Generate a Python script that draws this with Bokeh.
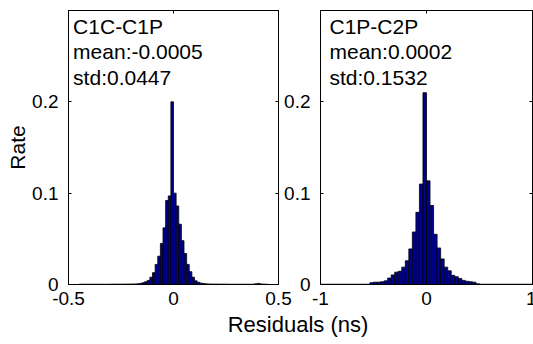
import numpy as np
from bokeh.plotting import figure
from bokeh.models import Range1d, LinearAxis, FixedTicker, Label, CustomLabelingPolicy
from bokeh.layouts import row, column
from bokeh.embed import file_html
from bokeh.resources import INLINE

FONT = "Liberation Sans"

# ---------------- data ----------------
y_label = "Rate"
x_label = "Residuals (ns)"
y_ticks = [0, 0.1, 0.2]
y_tick_labels = ["0", "0.1", "0.2"]

left_texts = ["C1C-C1P", "mean:-0.0005", "std:0.0447"]
left_x_ticks = [-0.5, 0, 0.5]
left_x_tick_labels = ["-0.5", "0", "0.5"]
left_bin_start = -0.45
left_bin_width = 0.0125
left_rates = [
    0.0003, 0.0003, 0.0003, 0.0003, 0.0003, 0.0003, 0.0003, 0.0003, 0.0003, 0.0003, 0.0003,
    0.0003, 0.0004, 0.0004, 0.0004, 0.0004, 0.0004, 0.0005, 0.0005, 0.0005, 0.0006, 0.0006,
    0.0008, 0.0012, 0.002, 0.003, 0.0045, 0.008, 0.013, 0.022, 0.031, 0.045, 0.062, 0.092,
    0.097, 0.2, 0.1, 0.086, 0.066, 0.048, 0.034, 0.022, 0.014, 0.008, 0.004, 0.0025, 0.0015,
    0.001, 0.0007,
    0.0006, 0.0005, 0.0005, 0.0005, 0.0004, 0.0004, 0.0004, 0.0004, 0.0003, 0.0003, 0.0003,
    0.0003, 0.0003, 0.0003, 0.0003, 0.0003, 0.0003, 0.0004, 0.0008, 0.0012, 0.0006, 0.0004,
    0.0003,
]

right_texts = ["C1P-C2P", "mean:0.0002", "std:0.1532"]
right_x_ticks = [-1, 0, 1]
right_x_tick_labels = ["-1", "0", "1"]
right_bin_start = -1.0
right_bin_width = 1.0 / 30
right_rates = [
    0.0003, 0.0003, 0.0003, 0.0003, 0.0003, 0.0003, 0.0003, 0.0003, 0.0003, 0.0003, 0.0003,
    0.0003, 0.0003, 0.0003,
    0.002, 0.0025, 0.0025, 0.003, 0.004, 0.007, 0.0105, 0.0135, 0.0145, 0.019, 0.026, 0.039,
    0.0575, 0.079, 0.11, 0.21,
    0.1135, 0.0865, 0.055, 0.040, 0.028, 0.019, 0.015, 0.010, 0.0085, 0.0065, 0.0045, 0.0035,
    0.003, 0.0025,
    0.0008, 0.0003, 0.0003, 0.0003, 0.0003, 0.0003, 0.0003, 0.0003, 0.0003, 0.0003, 0.0003,
    0.0003, 0.0003, 0.0003, 0.0003, 0.0003,
]

BAR_COLOR = "#00008F"

NO_LABELS = CustomLabelingPolicy(code="""
    for (const i of Array.from(indices)) { indices.unset(i) }
    return indices
""")


def style_axis(ax, size="19px"):
    ax.axis_line_color = "black"
    ax.major_tick_line_color = "black"
    ax.minor_tick_line_color = None
    ax.major_tick_in = 3
    ax.major_tick_out = 0
    ax.major_label_text_font = FONT
    ax.major_label_text_font_size = size
    ax.major_label_text_color = "black"


def mirror(p, ticks, side):
    ax = LinearAxis(ticker=FixedTicker(ticks=ticks), major_label_policy=NO_LABELS)
    style_axis(ax, "1px")
    ax.major_label_standoff = 0
    p.add_layout(ax, side)


def panel(xr, xt, xtl, start, width, rates, texts, text_x, border_left, frame_w, border_right):
    p = figure(
        output_backend="svg", toolbar_location=None,
        frame_width=frame_w, frame_height=274,
        min_border_left=border_left, min_border_right=border_right,
        min_border_top=10, min_border_bottom=32,
        x_range=Range1d(*xr), y_range=Range1d(0, 0.3),
    )
    centers = start + (np.arange(len(rates)) + 0.5) * width
    p.vbar(x=centers, top=rates, width=width, bottom=0,
           fill_color=BAR_COLOR, line_color="black", line_width=0.8)
    p.xgrid.visible = False
    p.ygrid.visible = False
    p.outline_line_color = "black"
    p.outline_line_width = 1
    p.background_fill_color = "white"

    xa = p.below[0]
    ya = p.left[0]
    xa.ticker = FixedTicker(ticks=xt)
    xa.major_label_overrides = {t: l for t, l in zip(xt, xtl)}
    ya.ticker = FixedTicker(ticks=y_ticks)
    ya.major_label_overrides = {t: l for t, l in zip(y_ticks, y_tick_labels)}
    style_axis(xa)
    style_axis(ya)
    xa.major_label_standoff = 7
    ya.major_label_standoff = 10
    mirror(p, xt, "above")
    mirror(p, y_ticks, "right")

    for t, yy in zip(texts, [0.283, 0.2547, 0.2262]):
        p.add_layout(Label(x=text_x, y=yy, text=t, text_font=FONT,
                           text_font_size="21px", text_color="black",
                           text_baseline="alphabetic", text_align="left"))
    return p


p1 = panel((-0.5, 0.5), left_x_ticks, left_x_tick_labels, left_bin_start, left_bin_width,
           left_rates, left_texts, -0.478, 68, 210, 14)
ya1 = p1.left[0]
ya1.axis_label = y_label
ya1.axis_label_text_font = FONT
ya1.axis_label_text_font_size = "21px"
ya1.axis_label_text_font_style = "normal"
ya1.axis_label_text_color = "black"
ya1.axis_label_standoff = 0

p2 = panel((-1, 1), right_x_ticks, right_x_tick_labels, right_bin_start, right_bin_width,
           right_rates, right_texts, -0.915, 40, 212, 1)
p2.border_fill_color = None
p2.margin = (0, 0, 0, -12)

p3 = figure(output_backend="svg", toolbar_location=None, width=533, height=42,
            x_range=Range1d(0, 533), y_range=Range1d(0, 42),
            x_axis_type=None, y_axis_type=None, min_border=0)
p3.outline_line_color = None
p3.border_fill_color = None
p3.background_fill_color = None
p3.xgrid.visible = False
p3.ygrid.visible = False
p3.margin = (-14, 0, 0, 0)
p3.add_layout(Label(x=297.5, y=20, text=x_label, text_font=FONT, text_font_size="22px",
                    text_color="black", text_align="center", text_baseline="alphabetic"))

layout = column(row(p1, p2), p3)
open("out.html", "w").write(file_html(layout, INLINE))
